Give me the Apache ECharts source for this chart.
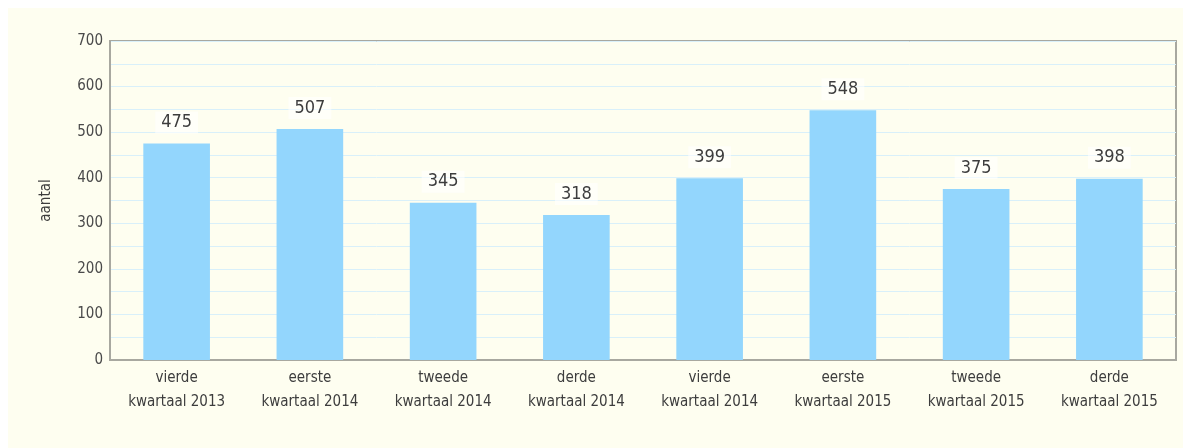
<!DOCTYPE html>
<html>
<head>
<meta charset="utf-8">
<script src="https://cdn.jsdelivr.net/npm/echarts@6/dist/echarts.min.js"></script>
<style>
  body { margin: 8px 0 0 8px; background: #fff; }
  #chart { width: 1175px; height: 440px; background: #fefef0; }
</style>
</head>
<body>
<div id="chart"></div>
<script>
  // kwartalen en aantallen
  const categories = [
    'vierde\nkwartaal 2013', 'eerste\nkwartaal 2014', 'tweede\nkwartaal 2014', 'derde\nkwartaal 2014',
    'vierde\nkwartaal 2014', 'eerste\nkwartaal 2015', 'tweede\nkwartaal 2015', 'derde\nkwartaal 2015'
  ];
  const aantallen = [475, 507, 345, 318, 399, 548, 375, 398];
  const yMin = 0;
  const yMax = 700;
  const yStep = 100;

  const font = "'Liberation Sans Narrow', 'DejaVu Sans Condensed', sans-serif";
  const chart = echarts.init(document.getElementById('chart'));
  chart.setOption({
    animation: false,
    textStyle: { fontFamily: font },
    grid: {
      left: 102, right: 7, top: 33, bottom: 88,
      show: true, borderColor: '#a8a8a0', borderWidth: 2, backgroundColor: 'transparent'
    },
    xAxis: {
      type: 'category',
      data: categories,
      axisLine: { lineStyle: { color: '#a8a8a0', width: 2 } },
      axisTick: { show: false },
      axisLabel: { color: '#3d3d3d', fontSize: 15, lineHeight: 24, margin: 6, fontFamily: font }
    },
    yAxis: {
      type: 'value',
      min: yMin, max: yMax, interval: yStep,
      name: 'aantal',
      nameLocation: 'middle',
      nameGap: 56,
      nameTextStyle: { color: '#3d3d3d', fontSize: 15, fontFamily: font },
      axisLine: { show: true, lineStyle: { color: '#a8a8a0', width: 2 } },
      axisTick: { show: false },
      axisLabel: { color: '#4a4a4a', fontSize: 15, margin: 7, fontFamily: font },
      splitLine: { lineStyle: { color: '#d9f0fa', width: 1 } },
      minorTick: { show: false, splitNumber: 2 },
      minorSplitLine: { show: true, lineStyle: { color: '#d9f0fa', width: 1 } }
    },
    series: [{
      type: 'bar',
      data: aantallen,
      barWidth: '50%',
      itemStyle: { color: '#93d6fd' },
      label: {
        show: true,
        position: 'top',
        distance: 10,
        color: '#3d3d3d',
        fontSize: 18,
        fontFamily: font,
        backgroundColor: 'rgba(255,255,255,0.6)',
        padding: [2, 6]
      }
    }]
  });
</script>
</body>
</html>
